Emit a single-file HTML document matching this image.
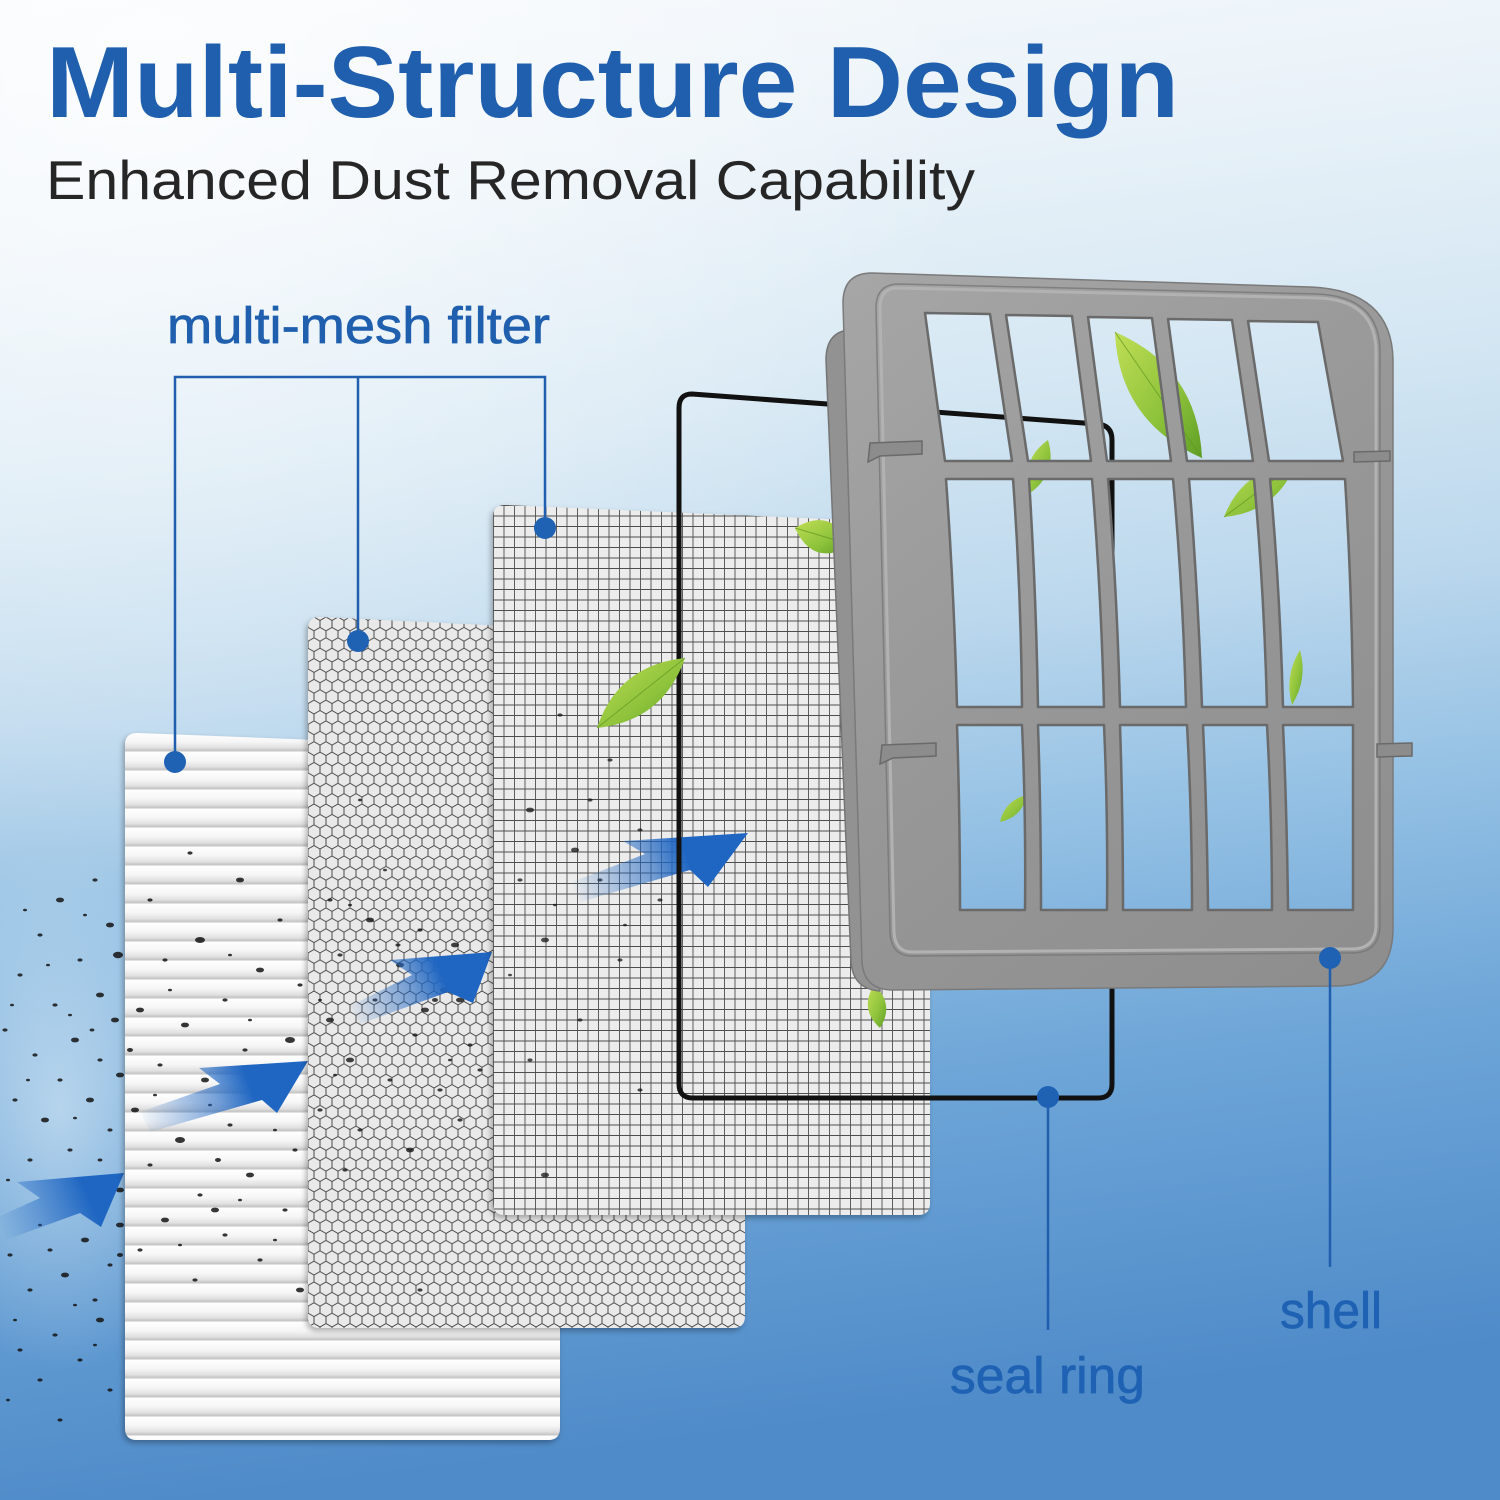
<!DOCTYPE html>
<html><head><meta charset="utf-8"><style>
html,body{margin:0;padding:0;background:#fff;}
svg{display:block;}
</style></head><body>
<svg width="1500" height="1500" viewBox="0 0 1500 1500" xmlns="http://www.w3.org/2000/svg">
<defs>
  <linearGradient id="bg" x1="0" y1="0" x2="0.12" y2="1">
    <stop offset="0" stop-color="#f6f9fc"/>
    <stop offset="0.15" stop-color="#ebf3f9"/>
    <stop offset="0.33" stop-color="#d5e7f3"/>
    <stop offset="0.48" stop-color="#bcd8ed"/>
    <stop offset="0.62" stop-color="#95c1e4"/>
    <stop offset="0.78" stop-color="#6ea6d8"/>
    <stop offset="1" stop-color="#4f8bc9"/>
  </linearGradient>
  <radialGradient id="glow" cx="0.1" cy="0.05" r="0.55">
    <stop offset="0" stop-color="#ffffff" stop-opacity="0.7"/>
    <stop offset="1" stop-color="#ffffff" stop-opacity="0"/>
  </radialGradient>
  <radialGradient id="haze" cx="0.5" cy="0.5" r="0.5">
    <stop offset="0" stop-color="#e8f3fa" stop-opacity="0.55"/>
    <stop offset="1" stop-color="#e8f3fa" stop-opacity="0"/>
  </radialGradient>
  <linearGradient id="pleatG" x1="0" y1="0" x2="0" y2="1">
    <stop offset="0" stop-color="#ffffff"/>
    <stop offset="0.45" stop-color="#f6f6f6"/>
    <stop offset="0.78" stop-color="#e0e0e0"/>
    <stop offset="0.92" stop-color="#c3c3c3"/>
    <stop offset="1" stop-color="#f0f0f0"/>
  </linearGradient>
  <pattern id="pleat" patternUnits="userSpaceOnUse" x="0" y="733" width="40" height="19">
    <rect width="40" height="19" fill="url(#pleatG)"/>
  </pattern>
  <pattern id="hex" patternUnits="userSpaceOnUse" x="308" y="617" width="12" height="20.78">
    <path d="M6,0 L12,3.46 L12,10.39 L6,13.86 L0,10.39 L0,3.46 Z M6,13.86 L6,20.78" fill="none" stroke="#1c1c1c" stroke-width="0.9"/>
  </pattern>
  <pattern id="grid" patternUnits="userSpaceOnUse" x="493" y="505" width="10.5" height="10.5">
    <path d="M0,0.5 H10.5 M0.5,0 V10.5" fill="none" stroke="#262626" stroke-width="0.9"/>
  </pattern>
  <filter id="sh" x="-10%" y="-10%" width="120%" height="120%">
    <feDropShadow dx="-2" dy="3" stdDeviation="3" flood-color="#000" flood-opacity="0.3"/>
  </filter>
  <linearGradient id="shellG" x1="840" y1="280" x2="1390" y2="990" gradientUnits="userSpaceOnUse">
    <stop offset="0" stop-color="#a6a6a6"/>
    <stop offset="0.5" stop-color="#979797"/>
    <stop offset="1" stop-color="#8d8d8d"/>
  </linearGradient>
  <linearGradient id="leafG" x1="0" y1="0" x2="1" y2="1">
    <stop offset="0" stop-color="#c0de55"/>
    <stop offset="0.6" stop-color="#8cc23a"/>
    <stop offset="1" stop-color="#5f9e25"/>
  </linearGradient>
  <linearGradient id="a1" x1="0" y1="1230" x2="124" y2="1175" gradientUnits="userSpaceOnUse">
    <stop offset="0" stop-color="#1f66c2" stop-opacity="0"/>
    <stop offset="0.5" stop-color="#1f66c2" stop-opacity="0.7"/>
    <stop offset="0.7" stop-color="#1f66c2" stop-opacity="1"/>
  </linearGradient>
  <linearGradient id="a2" x1="140" y1="1125" x2="308" y2="1062" gradientUnits="userSpaceOnUse">
    <stop offset="0" stop-color="#1f66c2" stop-opacity="0"/>
    <stop offset="0.45" stop-color="#1f66c2" stop-opacity="0.6"/>
    <stop offset="0.65" stop-color="#1f66c2" stop-opacity="1"/>
  </linearGradient>
  <linearGradient id="a3" x1="350" y1="1018" x2="492" y2="952" gradientUnits="userSpaceOnUse">
    <stop offset="0" stop-color="#1f66c2" stop-opacity="0"/>
    <stop offset="0.45" stop-color="#1f66c2" stop-opacity="0.6"/>
    <stop offset="0.65" stop-color="#1f66c2" stop-opacity="1"/>
  </linearGradient>
  <linearGradient id="a4" x1="572" y1="895" x2="748" y2="833" gradientUnits="userSpaceOnUse">
    <stop offset="0" stop-color="#1f66c2" stop-opacity="0"/>
    <stop offset="0.45" stop-color="#1f66c2" stop-opacity="0.6"/>
    <stop offset="0.65" stop-color="#1f66c2" stop-opacity="1"/>
  </linearGradient>
</defs>

<!-- background -->
<rect width="1500" height="1500" fill="url(#bg)"/>
<rect width="1500" height="1500" fill="url(#glow)"/>
<ellipse cx="60" cy="1110" rx="160" ry="260" fill="url(#haze)"/>

<!-- title -->
<text x="46" y="117" font-family="Liberation Sans, Arial, sans-serif" font-weight="bold" font-size="101" fill="#1f5fae" textLength="1133" lengthAdjust="spacingAndGlyphs">Multi-Structure Design</text>
<text x="46" y="199" font-family="Liberation Sans, Arial, sans-serif" font-size="55" fill="#262626" textLength="929" lengthAdjust="spacingAndGlyphs">Enhanced Dust Removal Capability</text>

<!-- label multi-mesh filter -->
<text x="167" y="343" font-family="Liberation Sans, Arial, sans-serif" font-size="51" fill="#1f5fae" stroke="#1f5fae" stroke-width="0.7" textLength="383" lengthAdjust="spacingAndGlyphs">multi-mesh filter</text>

<!-- dust in air (left) -->
<g fill="#141414" opacity="0.85">
  <ellipse cx="60" cy="900" rx="4" ry="2.4"/><ellipse cx="95" cy="880" rx="2.6" ry="1.6"/><ellipse cx="110" cy="925" rx="4" ry="2.4"/>
  <ellipse cx="40" cy="935" rx="2.6" ry="1.6"/><ellipse cx="118" cy="955" rx="5" ry="3.2"/><ellipse cx="80" cy="960" rx="2.6" ry="1.6"/>
  <ellipse cx="20" cy="975" rx="2.6" ry="1.6"/><ellipse cx="100" cy="995" rx="4" ry="2.4"/><ellipse cx="55" cy="1005" rx="2.6" ry="1.6"/>
  <ellipse cx="115" cy="1020" rx="4" ry="2.4"/><ellipse cx="5" cy="1030" rx="2.6" ry="1.6"/><ellipse cx="75" cy="1040" rx="4" ry="2.4"/>
  <ellipse cx="35" cy="1055" rx="2.6" ry="1.6"/><ellipse cx="100" cy="1060" rx="2.6" ry="1.6"/><ellipse cx="120" cy="1075" rx="4" ry="2.4"/>
  <ellipse cx="60" cy="1080" rx="2.6" ry="1.6"/><ellipse cx="90" cy="1100" rx="4" ry="2.4"/><ellipse cx="15" cy="1100" rx="2.6" ry="1.6"/>
  <ellipse cx="45" cy="1120" rx="4" ry="2.4"/><ellipse cx="110" cy="1130" rx="2.6" ry="1.6"/><ellipse cx="70" cy="1150" rx="2.6" ry="1.6"/>
  <ellipse cx="30" cy="1160" rx="2.6" ry="1.6"/><ellipse cx="120" cy="1190" rx="4" ry="2.4"/><ellipse cx="85" cy="1240" rx="4" ry="2.4"/>
  <ellipse cx="50" cy="1250" rx="2.6" ry="1.6"/><ellipse cx="10" cy="1255" rx="2.6" ry="1.6"/><ellipse cx="110" cy="1265" rx="2.6" ry="1.6"/>
  <ellipse cx="65" cy="1275" rx="4" ry="2.4"/><ellipse cx="30" cy="1290" rx="2.6" ry="1.6"/><ellipse cx="95" cy="1300" rx="2.6" ry="1.6"/>
  <ellipse cx="100" cy="1320" rx="4" ry="2.4"/><ellipse cx="55" cy="1335" rx="2.6" ry="1.6"/><ellipse cx="20" cy="1350" rx="2.6" ry="1.6"/>
  <ellipse cx="80" cy="1360" rx="2.6" ry="1.6"/><ellipse cx="40" cy="1380" rx="2.6" ry="1.6"/><ellipse cx="110" cy="1390" rx="2.6" ry="1.6"/>
  <ellipse cx="60" cy="1420" rx="2.6" ry="1.6"/><ellipse cx="25" cy="910" rx="2" ry="1.3"/><ellipse cx="70" cy="1015" rx="2" ry="1.3"/>
  <ellipse cx="8" cy="1180" rx="2" ry="1.3"/><ellipse cx="120" cy="1225" rx="4" ry="2.4"/><ellipse cx="120" cy="1255" rx="3" ry="2"/>
  <ellipse cx="85" cy="915" rx="2" ry="1.3"/><ellipse cx="48" cy="965" rx="2" ry="1.3"/><ellipse cx="12" cy="1005" rx="2" ry="1.3"/>
  <ellipse cx="92" cy="1030" rx="2.4" ry="1.5"/><ellipse cx="28" cy="1080" rx="2" ry="1.3"/><ellipse cx="75" cy="1118" rx="2" ry="1.3"/>
  <ellipse cx="100" cy="1160" rx="2.4" ry="1.5"/><ellipse cx="40" cy="1225" rx="2" ry="1.3"/><ellipse cx="75" cy="1305" rx="2" ry="1.3"/>
  <ellipse cx="15" cy="1320" rx="2" ry="1.3"/><ellipse cx="95" cy="1345" rx="2" ry="1.3"/><ellipse cx="8" cy="1400" rx="2" ry="1.3"/>
</g>

<!-- arrow 1 -->
<path d="M17,1182 L124,1173 L101,1227 L80,1213 L0,1242 L0,1216 L40,1198 Z" fill="url(#a1)"/>

<!-- pleated panel -->
<g filter="url(#sh)">
<path d="M137,733 L548,749 Q560,749 560,761 L560,1428 Q560,1440 548,1440 L137,1440 Q125,1440 125,1428 L125,745 Q125,733 137,733 Z" fill="url(#pleat)"/>
</g>
<!-- dust on pleated -->
<g fill="#141414" opacity="0.85">
  <ellipse cx="190" cy="853" rx="2.6" ry="1.6"/><ellipse cx="240" cy="880" rx="4" ry="2.4"/><ellipse cx="150" cy="900" rx="2.6" ry="1.6"/>
  <ellipse cx="280" cy="920" rx="2.6" ry="1.6"/><ellipse cx="200" cy="940" rx="5" ry="3"/><ellipse cx="165" cy="960" rx="2.6" ry="1.6"/>
  <ellipse cx="260" cy="970" rx="4" ry="2.4"/><ellipse cx="300" cy="985" rx="2.6" ry="1.6"/><ellipse cx="225" cy="1000" rx="2.6" ry="1.6"/>
  <ellipse cx="140" cy="1010" rx="4" ry="2.4"/><ellipse cx="185" cy="1025" rx="4" ry="2.4"/><ellipse cx="290" cy="1040" rx="5" ry="3"/>
  <ellipse cx="245" cy="1050" rx="2.6" ry="1.6"/><ellipse cx="160" cy="1065" rx="2.6" ry="1.6"/><ellipse cx="205" cy="1080" rx="4" ry="2.4"/>
  <ellipse cx="270" cy="1095" rx="2.6" ry="1.6"/><ellipse cx="135" cy="1110" rx="4" ry="2.4"/><ellipse cx="230" cy="1125" rx="2.6" ry="1.6"/>
  <ellipse cx="180" cy="1140" rx="5" ry="3"/><ellipse cx="295" cy="1150" rx="2.6" ry="1.6"/><ellipse cx="150" cy="1165" rx="2.6" ry="1.6"/>
  <ellipse cx="250" cy="1175" rx="4" ry="2.4"/><ellipse cx="200" cy="1195" rx="2.6" ry="1.6"/><ellipse cx="285" cy="1210" rx="2.6" ry="1.6"/>
  <ellipse cx="165" cy="1220" rx="4" ry="2.4"/><ellipse cx="225" cy="1235" rx="2.6" ry="1.6"/><ellipse cx="140" cy="1250" rx="2.6" ry="1.6"/>
  <ellipse cx="260" cy="1260" rx="2.6" ry="1.6"/><ellipse cx="195" cy="1280" rx="2.6" ry="1.6"/><ellipse cx="300" cy="1290" rx="4" ry="2.4"/>
  <ellipse cx="215" cy="1210" rx="4" ry="2.4"/><ellipse cx="130" cy="1050" rx="3" ry="2"/><ellipse cx="218" cy="1160" rx="3" ry="2"/>
  <ellipse cx="170" cy="990" rx="2" ry="1.3"/><ellipse cx="250" cy="1020" rx="2" ry="1.3"/><ellipse cx="155" cy="1095" rx="2" ry="1.3"/>
  <ellipse cx="275" cy="1130" rx="2" ry="1.3"/><ellipse cx="210" cy="1105" rx="2" ry="1.3"/><ellipse cx="240" cy="1200" rx="2" ry="1.3"/>
  <ellipse cx="180" cy="1245" rx="2" ry="1.3"/><ellipse cx="275" cy="1240" rx="2" ry="1.3"/><ellipse cx="230" cy="955" rx="2" ry="1.3"/>
</g>

<!-- arrow 2 -->
<path d="M199,1068 L308,1061 L277,1113 L262,1100 L150,1132 L140,1112 L220,1084 Z" fill="url(#a2)"/>

<!-- hex panel -->
<g filter="url(#sh)">
<path d="M320,617 L733,637 Q745,637 745,649 L745,1316 Q745,1328 733,1328 L320,1328 Q308,1328 308,1316 L308,629 Q308,617 320,617 Z" fill="#e9e9e9"/>
</g>
<path d="M320,617 L733,637 Q745,637 745,649 L745,1316 Q745,1328 733,1328 L320,1328 Q308,1328 308,1316 L308,629 Q308,617 320,617 Z" fill="url(#hex)" opacity="0.85"/>
<g fill="#141414" opacity="0.8">
  <ellipse cx="330" cy="900" rx="2.6" ry="1.6"/><ellipse cx="370" cy="920" rx="4" ry="2.4"/><ellipse cx="420" cy="930" rx="2.6" ry="1.6"/>
  <ellipse cx="455" cy="945" rx="4" ry="2.4"/><ellipse cx="340" cy="955" rx="2.6" ry="1.6"/><ellipse cx="400" cy="965" rx="4" ry="2.4"/>
  <ellipse cx="445" cy="990" rx="5" ry="3"/><ellipse cx="460" cy="1000" rx="4" ry="2.4"/><ellipse cx="375" cy="1000" rx="2.6" ry="1.6"/>
  <ellipse cx="330" cy="1020" rx="4" ry="2.4"/><ellipse cx="415" cy="1035" rx="2.6" ry="1.6"/><ellipse cx="470" cy="1045" rx="2.6" ry="1.6"/>
  <ellipse cx="350" cy="1060" rx="4" ry="2.4"/><ellipse cx="390" cy="1080" rx="2.6" ry="1.6"/><ellipse cx="440" cy="1090" rx="2.6" ry="1.6"/>
  <ellipse cx="320" cy="1110" rx="2.6" ry="1.6"/><ellipse cx="360" cy="1130" rx="2.6" ry="1.6"/><ellipse cx="410" cy="1150" rx="4" ry="2.4"/>
  <ellipse cx="460" cy="1120" rx="2.6" ry="1.6"/><ellipse cx="345" cy="1170" rx="2.6" ry="1.6"/><ellipse cx="480" cy="1070" rx="2.6" ry="1.6"/>
  <ellipse cx="425" cy="1010" rx="4" ry="2.4"/><ellipse cx="398" cy="945" rx="2.6" ry="1.6"/><ellipse cx="435" cy="1000" rx="3" ry="2"/>
  <ellipse cx="420" cy="1290" rx="2.6" ry="1.6"/><ellipse cx="360" cy="800" rx="2" ry="1.4"/>
  <ellipse cx="385" cy="870" rx="2" ry="1.3"/><ellipse cx="350" cy="905" rx="2" ry="1.3"/><ellipse cx="470" cy="980" rx="2.4" ry="1.5"/>
  <ellipse cx="320" cy="1000" rx="2" ry="1.3"/><ellipse cx="450" cy="1060" rx="2" ry="1.3"/><ellipse cx="335" cy="1075" rx="2" ry="1.3"/>
</g>

<!-- arrow 3 -->
<path d="M390,960 L492,952 L473,1003 L448,992 L360,1024 L350,1006 L412,975 Z" fill="url(#a3)"/>

<!-- grid panel -->
<g filter="url(#sh)">
<path d="M505,505 L918,523 Q930,523 930,535 L930,1203 Q930,1215 918,1215 L505,1215 Q493,1215 493,1203 L493,517 Q493,505 505,505 Z" fill="#ececec"/>
</g>
<path d="M505,505 L918,523 Q930,523 930,535 L930,1203 Q930,1215 918,1215 L505,1215 Q493,1215 493,1203 L493,517 Q493,505 505,505 Z" fill="url(#grid)" opacity="0.8"/>
<g fill="#141414" opacity="0.75">
  <ellipse cx="560" cy="715" rx="2.6" ry="1.6"/><ellipse cx="610" cy="760" rx="2.6" ry="1.6"/><ellipse cx="530" cy="810" rx="4" ry="2.4"/>
  <ellipse cx="590" cy="800" rx="2.6" ry="1.6"/><ellipse cx="640" cy="830" rx="2.6" ry="1.6"/><ellipse cx="575" cy="850" rx="4" ry="2.4"/>
  <ellipse cx="520" cy="880" rx="2.6" ry="1.6"/><ellipse cx="600" cy="880" rx="2.6" ry="1.6"/><ellipse cx="660" cy="900" rx="2.6" ry="1.6"/>
  <ellipse cx="545" cy="940" rx="4" ry="2.4"/><ellipse cx="620" cy="960" rx="2.6" ry="1.6"/><ellipse cx="580" cy="1020" rx="2.6" ry="1.6"/>
  <ellipse cx="530" cy="1060" rx="2.6" ry="1.6"/><ellipse cx="640" cy="1090" rx="2.6" ry="1.6"/><ellipse cx="545" cy="1175" rx="4" ry="2.4"/>
  <ellipse cx="555" cy="905" rx="2" ry="1.3"/><ellipse cx="510" cy="975" rx="2" ry="1.3"/><ellipse cx="625" cy="925" rx="2" ry="1.3"/>
</g>

<!-- arrow 4 -->
<path d="M623,841 L748,833 L708,887 L690,870 L580,902 L572,882 L645,854 Z" fill="url(#a4)"/>

<!-- seal ring -->
<path d="M692,394 L1097,424 Q1112,425 1112,440 L1112,1084 Q1112,1098 1098,1098 L693,1098 Q679,1098 679,1084 L679,408 Q679,394 692,394 Z" fill="none" stroke="#111" stroke-width="5"/>

<!-- leaves -->
<g fill="url(#leafG)">
  <path d="M1115,332 Q1119,422 1202,458 Q1198,368 1115,332 Z"/>
  <path d="M1030,493 Q1058,473 1048,440 Q1020,460 1030,493 Z"/>
  <path d="M1224,517 Q1277,512 1296,463 Q1243,468 1224,517 Z"/>
  <path d="M852,545 Q831,506 795,528 Q813,568 852,545 Z"/>
  <path d="M597,728 Q663,721 685,658 Q618,665 597,728 Z"/>
  <path d="M1292,705 Q1308,679 1300,650 Q1284,676 1292,705 Z"/>
  <path d="M855,822 Q872,781 858,740 Q840,781 855,822 Z"/>
  <path d="M1000,822 Q1022,817 1027,795 Q1005,800 1000,822 Z"/>
  <path d="M880,1028 Q895,1004 874,985 Q859,1009 880,1028 Z"/>
</g>
<g stroke="#5f9622" stroke-width="1" fill="none" opacity="0.7">
  <path d="M1115,332 L1202,458"/><path d="M597,728 L685,658"/><path d="M1224,517 L1296,463"/><path d="M852,545 L795,528"/>
</g>

<!-- shell back wall -->
<path d="M848,330 Q826,333 826,360 L851,962 Q853,989 880,991 L875,330 Z" fill="#929292" stroke="#757575" stroke-width="1.5"/>
<!-- shell frame -->
<path fill-rule="evenodd" fill="url(#shellG)" stroke="#7a7a7a" stroke-width="1.5" d="
M872,273 L1310,287 Q1392,290 1393,360 L1393,930 Q1392,985 1337,986 L893,990 Q864,990 862,962 L843,303 Q843,273 872,273 Z
M925,313 L990,314 L1012,461 L945,461 Z
M1006,315 L1072,316 L1091,461 L1028,461 Z
M1088,317 L1152,318 L1171,461 L1107,461 Z
M1168,319 L1232,320 L1253,461 L1187,461 Z
M1248,321 L1318,322 L1343,461 L1269,461 Z
M946,479 L1013,479 Q1021,590 1022,707 L957,707 Q954,590 946,479 Z
M1029,479 L1092,479 Q1101,590 1104,707 L1038,707 Q1036,590 1029,479 Z
M1108,479 L1173,479 Q1183,590 1186,707 L1120,707 Q1117,590 1108,479 Z
M1189,479 L1254,479 Q1264,590 1267,707 L1202,707 Q1198,590 1189,479 Z
M1270,479 L1345,479 Q1352,590 1353,707 L1283,707 Q1280,590 1270,479 Z
M957,725 L1022,725 Q1026,815 1025,910 L960,910 Q960,815 957,725 Z
M1038,725 L1104,725 Q1108,815 1107,910 L1041,910 Q1041,815 1038,725 Z
M1120,725 L1187,725 Q1192,815 1192,910 L1123,910 Q1123,815 1120,725 Z
M1203,725 L1267,725 Q1272,815 1272,910 L1208,910 Q1207,815 1203,725 Z
M1283,725 L1353,725 L1353,910 L1288,910 Q1287,815 1283,725 Z"/>
<!-- opening edges -->
<g fill="none" stroke="#6a6a6a" stroke-width="2.5" stroke-linejoin="round">
<path d="M925,313 L990,314 L1012,461 L945,461 Z M1006,315 L1072,316 L1091,461 L1028,461 Z M1088,317 L1152,318 L1171,461 L1107,461 Z M1168,319 L1232,320 L1253,461 L1187,461 Z M1248,321 L1318,322 L1343,461 L1269,461 Z"/>
<path d="M946,479 L1013,479 Q1021,590 1022,707 L957,707 Q954,590 946,479 Z M1029,479 L1092,479 Q1101,590 1104,707 L1038,707 Q1036,590 1029,479 Z M1108,479 L1173,479 Q1183,590 1186,707 L1120,707 Q1117,590 1108,479 Z M1189,479 L1254,479 Q1264,590 1267,707 L1202,707 Q1198,590 1189,479 Z M1270,479 L1345,479 Q1352,590 1353,707 L1283,707 Q1280,590 1270,479 Z"/>
<path d="M957,725 L1022,725 Q1026,815 1025,910 L960,910 Q960,815 957,725 Z M1038,725 L1104,725 Q1108,815 1107,910 L1041,910 Q1041,815 1038,725 Z M1120,725 L1187,725 Q1192,815 1192,910 L1123,910 Q1123,815 1120,725 Z M1203,725 L1267,725 Q1272,815 1272,910 L1208,910 Q1207,815 1203,725 Z M1283,725 L1353,725 L1353,910 L1288,910 Q1287,815 1283,725 Z"/>
</g>
<!-- inner lip -->
<path d="M897,288 L1318,298 Q1376,300 1376,352 L1376,926 Q1375,949 1352,949 L912,952 Q895,952 894,932 L880,308 Q880,288 897,288 Z" fill="none" stroke="#b2b2b2" stroke-width="3"/>
<path d="M899,284 L1318,294 Q1380,297 1380,352 L1380,926 Q1379,953 1352,953 L912,956 Q891,956 890,932 L876,308 Q876,284 899,284 Z" fill="none" stroke="#777" stroke-width="1.5" opacity="0.8"/>
<!-- tabs -->
<g fill="#8c8c8c" stroke="#6a6a6a" stroke-width="1.5">
  <path d="M870,443 L922,441 L922,454 L880,456 L868,462 Z"/>
  <path d="M882,745 L936,743 L936,756 L893,758 L880,764 Z"/>
  <path d="M1354,452 L1390,451 L1390,461 L1354,462 Z"/>
  <path d="M1377,744 L1412,743 L1412,756 L1377,757 Z"/>
</g>

<!-- connectors -->
<g stroke="#1f5fae" stroke-width="2.5" fill="none">
  <path d="M175,762 V377 H545 V528"/>
  <path d="M358,377 V641"/>
  <path d="M1048,1097 V1330"/>
  <path d="M1330,958 V1267"/>
</g>
<g fill="#1f62b4">
  <circle cx="175" cy="762" r="11"/>
  <circle cx="358" cy="641" r="11"/>
  <circle cx="545" cy="528" r="11"/>
  <circle cx="1048" cy="1097" r="11"/>
  <circle cx="1330" cy="958" r="11"/>
</g>

<!-- bottom labels -->
<text x="950" y="1393" font-family="Liberation Sans, Arial, sans-serif" font-size="51" fill="#1f62b4" stroke="#1f62b4" stroke-width="0.7" textLength="195" lengthAdjust="spacingAndGlyphs">seal ring</text>
<text x="1280" y="1328" font-family="Liberation Sans, Arial, sans-serif" font-size="51" fill="#1f62b4" stroke="#1f62b4" stroke-width="0.7" textLength="102" lengthAdjust="spacingAndGlyphs">shell</text>
</svg>
</body></html>
